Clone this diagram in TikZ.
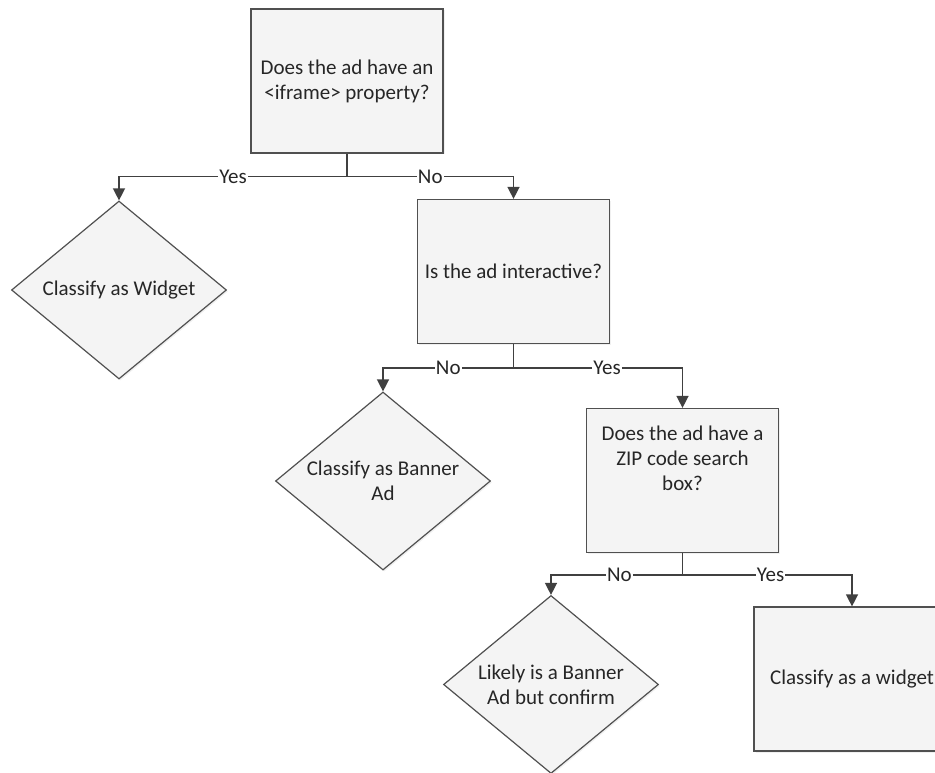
\documentclass[tikz,border=0pt]{standalone}
\usepackage{fontspec}
\setmainfont{Carlito}
\usetikzlibrary{arrows.meta,shapes.geometric,shadows}
\definecolor{linec}{HTML}{404040}
\definecolor{edgec}{HTML}{505050}
\definecolor{fillc}{HTML}{F4F4F4}
\begin{document}
\begin{tikzpicture}[x=1pt,y=-1pt,
  every node/.style={font=\fontsize{21}{25}\selectfont, text=black!85},
  boxnode/.style={rectangle, draw=edgec, line width=1.2pt, fill=fillc,
    minimum width=192pt, minimum height=144pt, inner sep=0pt,
    drop shadow={opacity=0.12, shadow xshift=1.5pt, shadow yshift=-1.5pt}},
  dianode/.style={diamond, draw=edgec, line width=1.2pt, fill=fillc,
    minimum width=215pt, minimum height=178pt, inner sep=0pt,
    drop shadow={opacity=0.12, shadow xshift=1.5pt, shadow yshift=-1.5pt}},
  txt/.style={align=center, inner sep=0pt},
  conn/.style={draw=linec, line width=1.4pt},
  arr/.style={conn, -{Triangle[width=12pt,length=12pt]}},
  lbl/.style={fill=white, inner sep=1pt}
]
\useasboundingbox (0,0) rectangle (935,773);
\begin{scope}
\clip (0,0) rectangle (935,773);
% nodes
\node[boxnode] (q1) at (347,81) {};
\node[txt] at (q1.center) {Does the ad have an\\<iframe> property?};
\node[dianode] (w) at (119,290) {};
\node[txt] at (w.center) {Classify as Widget};
\node[boxnode] (q2) at (513.5,271.5) {};
\node[txt] at (q2.center) {Is the ad interactive?};
\node[dianode] (b) at (383,481) {};
\node[txt] at (b.center) {Classify as Banner\\Ad};
\node[boxnode] (q3) at (682.5,480.5) {};
\node[txt] at (682.5,458) {Does the ad have a\\ZIP code search\\box?};
\node[dianode] (l) at (551,684.5) {};
\node[txt] at (l.center) {Likely is a Banner\\Ad but confirm};
\node[boxnode, minimum width=196pt] (f) at (852,679) {};
\node[txt] at (f.center) {Classify as a widget};
% connectors
\draw[conn] (q1.south) -- ++(0,23) coordinate (j1);
\draw[arr] (j1) -| node[lbl, pos=0.25] {Yes} (w.north);
\draw[arr] (j1) -| node[lbl, pos=0.25] {No} (q2.north);
\draw[conn] (q2.south) -- ++(0,24) coordinate (j2);
\draw[arr] (j2) -| node[lbl, pos=0.25] {No} (b.north);
\draw[arr] (j2) -| node[lbl, pos=0.277] {Yes} (q3.north);
\draw[conn] (q3.south) -- ++(0,22) coordinate (j3);
\draw[arr] (j3) -| node[lbl, pos=0.24] {No} (l.north);
\draw[arr] (j3) -| node[lbl, pos=0.26] {Yes} (f.north);
\end{scope}
\end{tikzpicture}
\end{document}
